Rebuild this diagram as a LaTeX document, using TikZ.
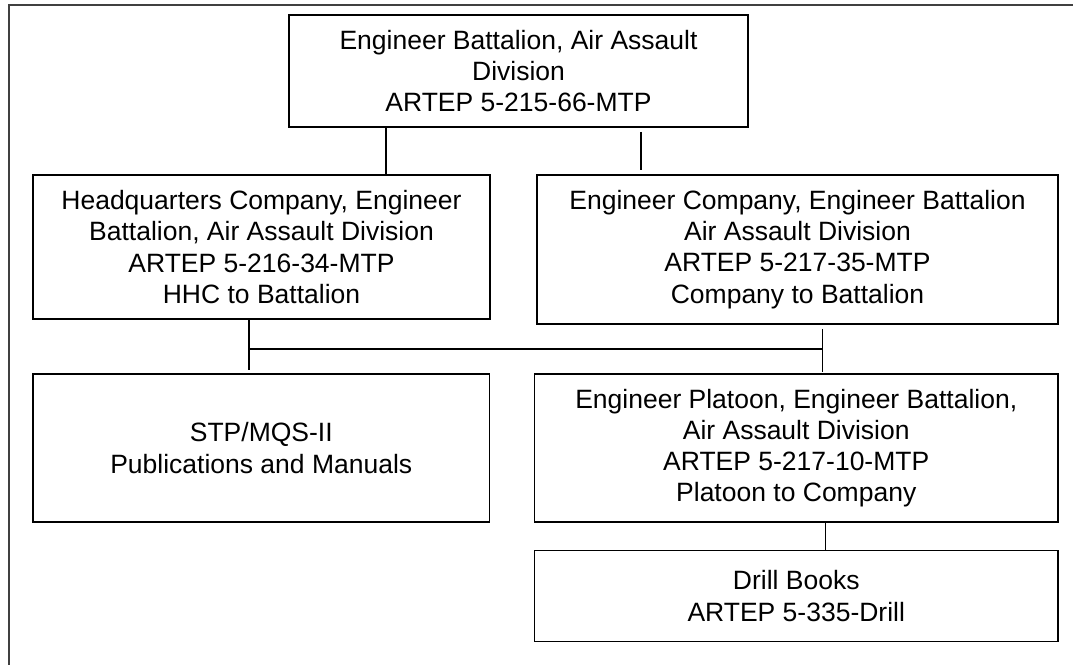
\documentclass[tikz,border=0pt]{standalone}
\usepackage{fontspec}
\setmainfont{Liberation Sans}
\begin{document}
\begin{tikzpicture}[x=1pt,y=-1pt,
  box/.style={draw=black,line width=1.7pt,inner sep=0pt,align=center,
    font=\fontsize{26.5}{31.2}\selectfont},
  conn/.style={draw=black,line width=1.4pt}]
\useasboundingbox (0,0) rectangle (1073,664);
\clip (0,0) rectangle (1073,664);
\fill[white] (0,0) rectangle (1073,664);
% outer frame
\draw[line width=1.9pt,black!75] (9,680) -- (9,5) -- (1090,5);
% boxes
\node[box,minimum width=459pt,minimum height=112pt] (top) at (518.5,71)
  {Engineer Battalion, Air Assault\\Division\\ARTEP 5-215-66-MTP};
\node[box,minimum width=457pt,minimum height=144pt] (hq) at (261.5,247)
  {Headquarters Company, Engineer\\Battalion, Air Assault Division\\ARTEP 5-216-34-MTP\\HHC to Battalion};
\node[box,minimum width=521pt,minimum height=149pt] (eng) at (797.5,249.5)
  {Engineer Company, Engineer Battalion\\Air Assault Division\\ARTEP 5-217-35-MTP\\Company to Battalion};
\node[box,minimum width=456.5pt,minimum height=148pt] (stp) at (261.25,448)
  {STP/MQS-II\\Publications and Manuals};
\node[box,minimum width=523.5pt,minimum height=148pt] (plat) at (796.25,448)
  {Engineer Platoon, Engineer Battalion,\\Air Assault Division\\ARTEP 5-217-10-MTP\\Platoon to Company};
\node[box,minimum width=523.5pt,minimum height=91pt] (drill) at (796.25,596)
  {Drill Books\\ARTEP 5-335-Drill};
% connector coordinates
\coordinate (c1) at (386,0);
\coordinate (c2) at (641,0);
\coordinate (b1) at (249,349);
\coordinate (b2) at (822.5,349);
\coordinate (c3) at (825.5,0);
% connectors
\draw[conn] (top.south -| c1) -- (hq.north -| c1);
\draw[conn,shorten <=4pt,shorten >=4pt] (top.south -| c2) -- (eng.north -| c2);
\draw[conn,shorten >=3pt] (hq.south -| b1) -- (stp.north -| b1);
\draw[conn] (b1) -- (b2);
\draw[conn,shorten <=4pt,shorten >=1pt] (eng.south -| b2) -- (plat.north -| b2);
\draw[conn] (plat.south -| c3) -- (drill.north -| c3);
\end{tikzpicture}
\end{document}
